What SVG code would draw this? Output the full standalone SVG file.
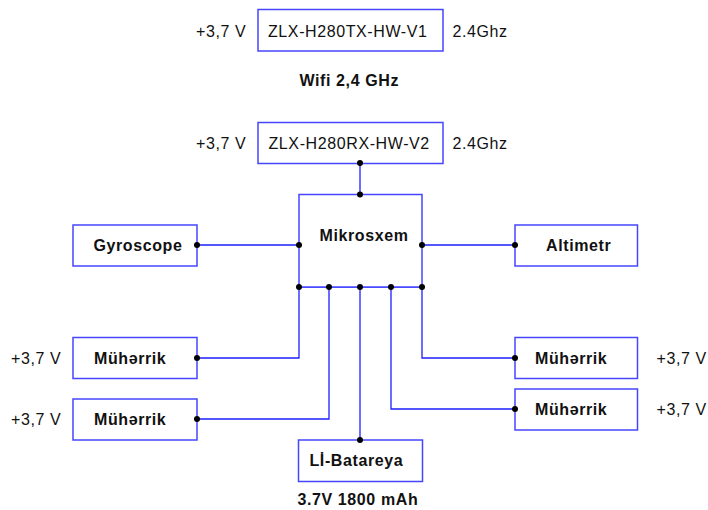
<svg xmlns="http://www.w3.org/2000/svg" width="708" height="510" viewBox="0 0 708 510">
<style>
.box{fill:#ffffff;stroke:#4646ff;stroke-width:1.5}
.wire{fill:none;stroke:#1e1eff;stroke-width:1.3}
.dot{fill:#000000}
text{font-family:"Liberation Sans",Arial,sans-serif;font-size:16px;fill:#111111;letter-spacing:0.6px}
.b{font-weight:bold}
</style>
<rect width="708" height="510" fill="#ffffff"/>
<g id="connectors">
<path class="wire" d="M360,163 V194.5"/>
<path class="wire" d="M197,245 H299"/>
<path class="wire" d="M422,245 H515"/>
<path class="wire" d="M299,287 H422"/>
<path class="wire" d="M299,287 V358 H197"/>
<path class="wire" d="M329,287 V419 H197"/>
<path class="wire" d="M360,287 V440"/>
<path class="wire" d="M391,287 V409 H515"/>
<path class="wire" d="M422,287 V358 H515"/>
</g>
<g id="tx">
<rect class="box" x="258" y="9.5" width="185" height="41.5"/>
<text x="268" y="36.5">ZLX-H280TX-HW-V1</text>
<text x="196" y="36.5">+3,7 V</text>
<text x="452.5" y="36.5">2.4Ghz</text>
</g>
<g id="wifi"><text class="b" x="299.5" y="86">Wifi 2,4 GHz</text></g>
<g id="rx">
<rect class="box" x="258" y="122.5" width="185" height="41"/>
<text x="268.5" y="149">ZLX-H280RX-HW-V2</text>
<text x="196" y="149">+3,7 V</text>
<text x="452.5" y="149">2.4Ghz</text>
</g>
<g id="mikrosxem">
<rect class="box" x="299" y="194.5" width="123" height="92.5"/>
<text class="b" x="319.5" y="240.5">Mikrosxem</text>
</g>
<g id="gyroscope">
<rect class="box" x="73" y="225" width="124" height="41"/>
<text class="b" x="93.5" y="251">Gyroscope</text>
</g>
<g id="altimetr">
<rect class="box" x="515" y="225" width="122.5" height="41"/>
<text class="b" x="546" y="251">Altimetr</text>
</g>
<g id="motor-left-1">
<rect class="box" x="73" y="337.5" width="124" height="41"/>
<text class="b" x="94" y="363.5">Mühərrik</text>
<text x="11" y="363.5">+3,7 V</text>
</g>
<g id="motor-left-2">
<rect class="box" x="73" y="399" width="124" height="41"/>
<text class="b" x="94" y="424.5">Mühərrik</text>
<text x="11" y="424.5">+3,7 V</text>
</g>
<g id="motor-right-1">
<rect class="box" x="515" y="337.5" width="122.5" height="41"/>
<text class="b" x="535" y="363.5">Mühərrik</text>
<text x="656.5" y="363.5">+3,7 V</text>
</g>
<g id="motor-right-2">
<rect class="box" x="515" y="389" width="122.5" height="41"/>
<text class="b" x="535" y="414.5">Mühərrik</text>
<text x="656.5" y="414.5">+3,7 V</text>
</g>
<g id="battery">
<rect class="box" x="298.5" y="440" width="124" height="41.5"/>
<text class="b" x="309.5" y="466">Lİ-Batareya</text>
<text class="b" x="297.5" y="505">3.7V 1800 mAh</text>
</g>
<g id="dots">
<circle class="dot" cx="360" cy="163" r="3"/>
<circle class="dot" cx="360" cy="194.5" r="3"/>
<circle class="dot" cx="197" cy="245" r="3"/>
<circle class="dot" cx="299" cy="245" r="3"/>
<circle class="dot" cx="422" cy="245" r="3"/>
<circle class="dot" cx="515" cy="245" r="3"/>
<circle class="dot" cx="299" cy="287" r="3"/>
<circle class="dot" cx="329" cy="287" r="3"/>
<circle class="dot" cx="360" cy="287" r="3"/>
<circle class="dot" cx="391" cy="287" r="3"/>
<circle class="dot" cx="422" cy="287" r="3"/>
<circle class="dot" cx="197" cy="358" r="3"/>
<circle class="dot" cx="197" cy="419" r="3"/>
<circle class="dot" cx="515" cy="358" r="3"/>
<circle class="dot" cx="515" cy="409" r="3"/>
<circle class="dot" cx="360" cy="440" r="3"/>
</g>
</svg>
